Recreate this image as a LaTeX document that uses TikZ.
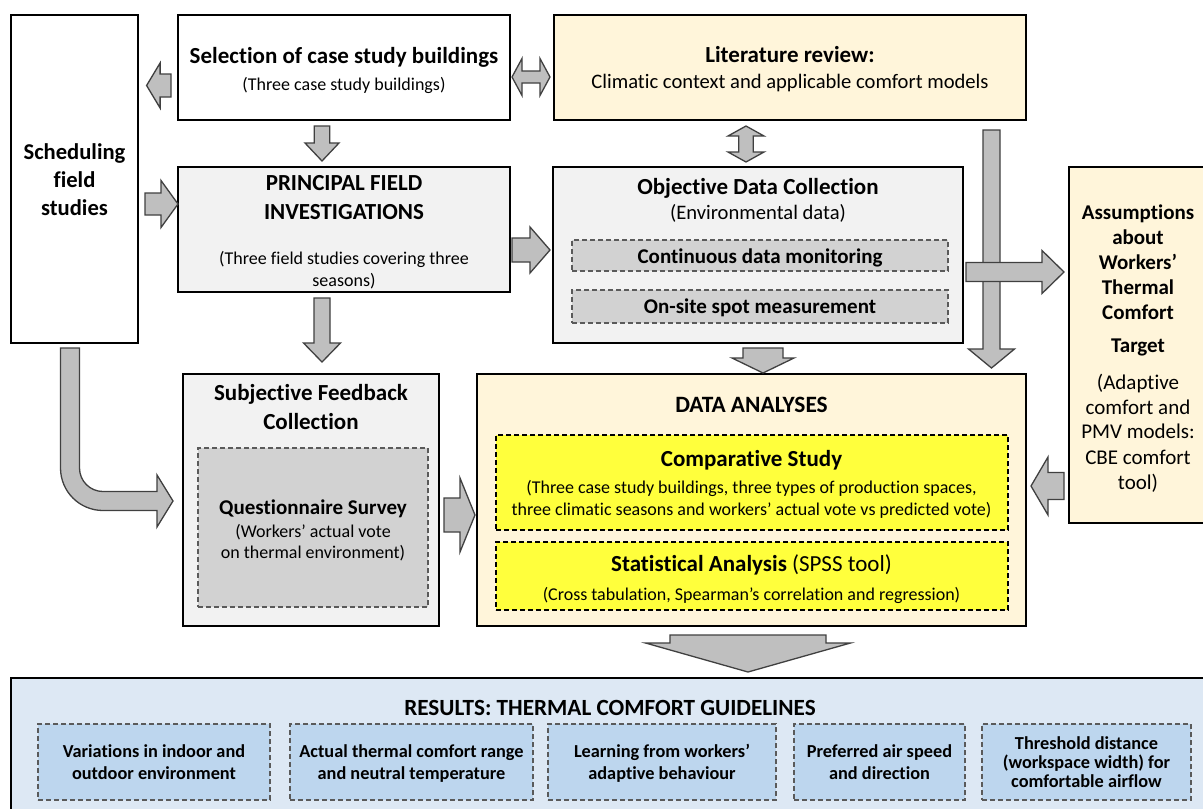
\documentclass[tikz,border=0pt]{standalone}
\usepackage{fontspec}
\setmainfont{Carlito}[Ligatures=NoCommon]
\usetikzlibrary{calc}
\definecolor{cream}{HTML}{FFF5DA}
\definecolor{lgray}{HTML}{F2F2F2}
\definecolor{mgray}{HTML}{D2D2D2}
\definecolor{ybright}{HTML}{FFFF3C}
\definecolor{lblue}{HTML}{DDE8F4}
\definecolor{mblue}{HTML}{BDD6EE}
\definecolor{arrfill}{HTML}{BFBFBF}
\definecolor{arrline}{HTML}{404040}
\definecolor{dashgray}{HTML}{5A5A5A}
\tikzset{
  box/.style={draw=black, line width=1.8pt, inner sep=0pt, outer sep=0pt, anchor=north west},
  dbox/.style={draw=dashgray, line width=1.5pt, dash pattern=on 5pt off 3pt, inner sep=0pt, outer sep=0pt, anchor=north west},
  ybox/.style={draw=black, line width=1.5pt, dash pattern=on 5pt off 3pt, inner sep=0pt, outer sep=0pt, anchor=north west, fill=ybright},
  blk/.style={fill=arrfill, draw=arrline, line width=1.3pt, line join=miter},
  tl/.style={inner sep=0pt, anchor=base},
  b23/.style={tl, font=\fontsize{23}{27}\selectfont\bfseries},
  b22/.style={tl, font=\fontsize{22.6}{27}\selectfont\bfseries},
  b21/.style={tl, font=\fontsize{21}{25}\selectfont\bfseries},
  b20/.style={tl, font=\fontsize{21}{24}\selectfont\bfseries},
  b18/.style={tl, font=\fontsize{18.3}{22}\selectfont\bfseries},
  r21/.style={tl, font=\fontsize{21}{25}\selectfont},
  r20/.style={tl, font=\fontsize{20.6}{24}\selectfont},
  r18/.style={tl, font=\fontsize{18}{22}\selectfont},
}
% right arrow: tail, tip, shaft half, head half, head length
\newcommand\arrR[5]{\path[blk] let \p1=#1, \p2=#2 in
  (\x1,{\y1+#3pt}) -- ({\x2-#5pt},{\y1+#3pt}) -- ({\x2-#5pt},{\y1+#4pt}) -- (\x2,\y1)
  -- ({\x2-#5pt},{\y1-#4pt}) -- ({\x2-#5pt},{\y1-#3pt}) -- (\x1,{\y1-#3pt}) -- cycle;}
\newcommand\arrL[5]{\path[blk] let \p1=#1, \p2=#2 in
  (\x1,{\y1+#3pt}) -- ({\x2+#5pt},{\y1+#3pt}) -- ({\x2+#5pt},{\y1+#4pt}) -- (\x2,\y1)
  -- ({\x2+#5pt},{\y1-#4pt}) -- ({\x2+#5pt},{\y1-#3pt}) -- (\x1,{\y1-#3pt}) -- cycle;}
\newcommand\arrD[5]{\path[blk] let \p1=#1, \p2=#2 in
  ({\x1-#3pt},\y1) -- ({\x1-#3pt},{\y2+#5pt}) -- ({\x1-#4pt},{\y2+#5pt}) -- (\x1,\y2)
  -- ({\x1+#4pt},{\y2+#5pt}) -- ({\x1+#3pt},{\y2+#5pt}) -- ({\x1+#3pt},\y1) -- cycle;}
\newcommand\arrHH[5]{\path[blk] let \p1=#1, \p2=#2 in
  (\x1,\y1) -- ({\x1+#5pt},{\y1+#4pt}) -- ({\x1+#5pt},{\y1+#3pt}) -- ({\x2-#5pt},{\y1+#3pt})
  -- ({\x2-#5pt},{\y1+#4pt}) -- (\x2,\y1) -- ({\x2-#5pt},{\y1-#4pt}) -- ({\x2-#5pt},{\y1-#3pt})
  -- ({\x1+#5pt},{\y1-#3pt}) -- ({\x1+#5pt},{\y1-#4pt}) -- cycle;}
\newcommand\arrVV[5]{\path[blk] let \p1=#1, \p2=#2 in
  (\x1,\y1) -- ({\x1+#4pt},{\y1-#5pt}) -- ({\x1+#3pt},{\y1-#5pt}) -- ({\x1+#3pt},{\y2+#5pt})
  -- ({\x1+#4pt},{\y2+#5pt}) -- (\x1,\y2) -- ({\x1-#4pt},{\y2+#5pt}) -- ({\x1-#3pt},{\y2+#5pt})
  -- ({\x1-#3pt},{\y1-#5pt}) -- ({\x1-#4pt},{\y1-#5pt}) -- cycle;}
\begin{document}
\begin{tikzpicture}[x=1pt,y=-1pt]
\useasboundingbox (0,0) rectangle (1203,809);
\fill[white] (0,0) rectangle (1203,809);
% ---------- boxes
\node[box, fill=white, minimum width=127, minimum height=328] (sched) at (11,15) {};
\node[box, fill=white, minimum width=332, minimum height=105] (sel) at (178,15) {};
\node[box, fill=cream, minimum width=472, minimum height=105] (lit) at (554,15) {};
\node[box, fill=lgray, minimum width=332, minimum height=125] (pfi) at (178,167) {};
\node[box, fill=lgray, minimum width=410, minimum height=176] (odc) at (553,167) {};
\node[dbox, fill=mgray, minimum width=376, minimum height=31] (cont) at (572,240) {};
\node[dbox, fill=mgray, minimum width=376, minimum height=33] (onsite) at (572,290) {};
\node[box, fill=cream, minimum width=145, minimum height=356] (assum) at (1069,167) {};
\node[box, fill=lgray, minimum width=256, minimum height=252] (sfc) at (183,374) {};
\node[dbox, fill=mgray, minimum width=230, minimum height=159] (qs) at (198,448) {};
\node[box, fill=cream, minimum width=549, minimum height=252] (da) at (477,374) {};
\node[ybox, minimum width=512, minimum height=95] (comp) at (496,435) {};
\node[ybox, minimum width=512, minimum height=68] (stat) at (496,542) {};
\node[box, fill=lblue, minimum width=1203, minimum height=140] (res) at (11,678) {};
\node[dbox, fill=mblue, minimum width=232, minimum height=76] (r1) at (38,724) {};
\node[dbox, fill=mblue, minimum width=243, minimum height=76] (r2) at (290,724) {};
\node[dbox, fill=mblue, minimum width=228, minimum height=76] (r3) at (548,724) {};
\node[dbox, fill=mblue, minimum width=171, minimum height=76] (r4) at (794,724) {};
\node[dbox, fill=mblue, minimum width=209, minimum height=76] (r5) at (982,724) {};
% ---------- block arrows
\arrL{([shift={(-7,18)}]sel.west)}{([shift={(8.6,-93.5)}]sched.east)}{11.5}{22.5}{13.5}
\arrHH{([shift={(2,9.5)}]sel.east)}{([shift={(-4,9.5)}]lit.west)}{6}{18.5}{10}
\arrD{([shift={(-22,6)}]sel.south)}{([shift={(-22,-6)}]pfi.north)}{7.7}{17}{18}
\arrR{([shift={(7,25)}]sched.east)}{([shift={(0,-25.5)}]pfi.west)}{11}{23.5}{17}
\arrR{([shift={(2,20.5)}]pfi.east)}{([shift={(-3,-5)}]odc.west)}{12}{23}{20}
\arrVV{([shift={(-44,6)}]lit.south)}{([shift={(-12,-5)}]odc.north)}{7.3}{18}{10}
\arrD{([shift={(201.5,10)}]lit.south)}{([shift={(240,-6)}]da.north)}{8.5}{23}{19}
\arrR{([shift={(3,17)}]odc.east)}{([shift={(-5,-73)}]assum.west)}{9.5}{21.5}{22}
\arrD{([shift={(5,5)}]odc.south)}{([shift={(11.5,-1)}]da.north)}{20}{31}{15}
\arrL{([shift={(-5,141)}]assum.west)}{([shift={(5,-14)}]da.east)}{13.5}{29}{17}
\arrD{([shift={(-22,6)}]pfi.south)}{([shift={(11,-12)}]sfc.north)}{8}{18.5}{19}
\arrR{([shift={(5,15)}]sfc.east)}{([shift={(-2,15)}]da.west)}{17}{37}{15}
\arrD{([shift={(-3.5,9)}]da.south)}{([shift={(135.5,-6)}]res.north)}{78}{102.5}{29}
% curved arrow from scheduling to subjective feedback
\path[blk] let \p1=([shift={(-4.5,5)}]sched.south), \p2=([shift={(-10,1)}]sfc.west) in
  ({\x1-9.5pt},\y1) -- ({\x1-9.5pt},{\y2+33pt})
  .. controls ({\x1-9.5pt},{\y2+9.53pt}) and ({\x1+9.53pt},{\y2-9.5pt}) .. ({\x1+33pt},{\y2-9.5pt})
  -- ({\x2-16pt},{\y2-9.5pt}) -- ({\x2-16pt},{\y2-26pt}) -- (\x2,\y2) -- ({\x2-16pt},{\y2+26pt})
  -- ({\x2-16pt},{\y2+9.5pt}) -- ({\x1+33pt},{\y2+9.5pt})
  .. controls ({\x1+20.02pt},{\y2+9.5pt}) and ({\x1+9.5pt},{\y2+20.02pt}) .. ({\x1+9.5pt},{\y2+33pt})
  -- ({\x1+9.5pt},\y1) -- cycle;
% ---------- texts
\node[b22] (t1) at (74.5,159) {Scheduling};
\node[b22] (t2) at (74.5,187) {field};
\node[b22] (t3) at (74.5,215) {studies};
\node[b23] (t4) at (344,63) {Selection of case study buildings};
\node[r18] (t5) at (344,90) {(Three case study buildings)};
\node[b23] (t6) at (790,62) {Literature review:};
\node[r20] (t7) at (790,88.5) {Climatic context and applicable comfort models};
\node[b23] (t8) at (344,190.5) {PRINCIPAL FIELD};
\node[b23] (t9) at (344,219.5) {INVESTIGATIONS};
\node[r18] (t10) at (344,264) {(Three field studies covering three};
\node[r18] (t11) at (344,286) {seasons)};
\node[b23] (t12) at (758,194.5) {Objective Data Collection};
\node[r20] (t13) at (758,219.5) {(Environmental data)};
\node[b21] (t14) at (760,263) {Continuous data monitoring};
\node[b21] (t15) at (760,313) {On-site spot measurement};
\node[b21] (t16) at (1138,219) {Assumptions};
\node[b21] (t17) at (1138,244) {about};
\node[b21] (t18) at (1138,269) {Workers’};
\node[b21] (t19) at (1138,294) {Thermal};
\node[b21] (t20) at (1138,319) {Comfort};
\node[b21] (t21) at (1138,352) {Target};
\node[r21] (t22) at (1138,389) {(Adaptive};
\node[r21] (t23) at (1138,414) {comfort and};
\node[r21] (t24) at (1138,438) {PMV models:};
\node[r21] (t25) at (1138,464) {CBE comfort};
\node[r21] (t26) at (1138,489) {tool)};
\node[b23] (t27) at (311,400) {Subjective Feedback};
\node[b23] (t28) at (311,429) {Collection};
\node[b20] (t29) at (313,514) {Questionnaire Survey};
\node[r18] (t30) at (313,537) {(Workers’ actual vote};
\node[r18] (t31) at (313,558) {on thermal environment)};
\node[b23] (t32) at (751.5,412.5) {\fontsize{23.4}{27}\selectfont DATA ANALYSES};
\node[b23] (t33) at (751.5,466) {Comparative Study};
\node[r18] (t34) at (751.5,493) {(Three case study buildings, three types of production spaces,};
\node[r18] (t35) at (751.5,515) {three climatic seasons and workers’ actual vote vs predicted vote)};
\node[b23] (t36) at (751.5,571.5) {Statistical Analysis \mdseries(SPSS tool)};
\node[r18] (t37) at (751.5,600) {(Cross tabulation, Spearman’s correlation and regression)};
\node[b23] (t38) at (610,715.5) {\fontsize{23.2}{27}\selectfont RESULTS: THERMAL COMFORT GUIDELINES};
\node[b18] (t39) at (154,757) {Variations in indoor and};
\node[b18] (t40) at (154,779) {outdoor environment};
\node[b18] (t41) at (411.5,757) {Actual thermal comfort range};
\node[b18] (t42) at (411.5,779) {and neutral temperature};
\node[b18] (t43) at (662,757) {Learning from workers’};
\node[b18] (t44) at (662,779) {adaptive behaviour};
\node[b18] (t45) at (879.5,757) {Preferred air speed};
\node[b18] (t46) at (879.5,779) {and direction};
\node[b18] (t47) at (1086.5,749) {Threshold distance};
\node[b18] (t48) at (1086.5,768) {(workspace width) for};
\node[b18] (t49) at (1086.5,787) {comfortable airflow};
\end{tikzpicture}
\end{document}
